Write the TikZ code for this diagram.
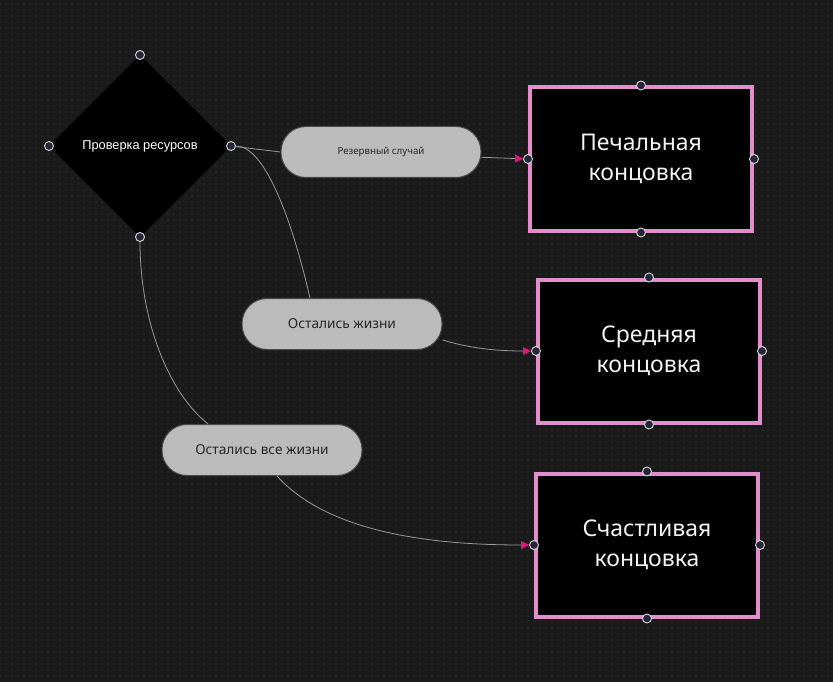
\documentclass[tikz,border=0pt]{standalone}
\usepackage{fontspec}
\setmainfont{Noto Sans}
\newfontfamily\diafont{Liberation Sans}
\usetikzlibrary{shapes.geometric,patterns.meta,arrows.meta}
\definecolor{bgc}{HTML}{1A1A1A}
\definecolor{dotc}{HTML}{303030}
\definecolor{pillc}{HTML}{BBBBBB}
\definecolor{pilledge}{HTML}{4A4A4A}
\definecolor{pinkc}{HTML}{E28ECC}
\definecolor{tipc}{HTML}{E0167C}
\definecolor{linec}{HTML}{9A9A9A}
\definecolor{portc}{HTML}{26263A}
\tikzset{
  pill/.style={draw=pilledge, line width=1pt, fill=pillc, rounded corners=25pt,
    minimum width=200pt, minimum height=51pt, inner sep=0pt, text=black!85},
  endbox/.style={draw=pinkc, line width=4pt, fill=black, minimum width=222pt,
    minimum height=143pt, inner sep=0pt, text=white!95!black, align=center,
    font=\fontsize{23}{29.5}\selectfont},
  port/.style={circle, draw=white!85!black, line width=0.9pt, fill=portc,
    minimum size=9pt, inner sep=0pt},
  conn/.style={draw=linec, line width=0.8pt},
  arr/.style={conn, -{Triangle[length=8pt,width=8pt,fill=tipc,color=tipc]}},
}
\begin{document}
\begin{tikzpicture}[x=1pt,y=-1pt]
\useasboundingbox (0,0) rectangle (833,682);
\fill[bgc] (0,0) rectangle (833,682);
\fill[pattern={Dots[radius=0.8pt,distance=6pt]}, pattern color=dotc] (0,0) rectangle (833,682);

% decision diamond
\node[diamond, fill=black, minimum width=182pt, minimum height=182pt, inner sep=0pt, outer sep=0pt,
  text=white, font=\diafont\fontsize{12.8}{14}\selectfont] (d) at (140,146) {Проверка ресурсов};

% pills
\node[pill, font=\fontsize{9.7}{11}\selectfont] (p1) at (381,152) {Резервный случай};
\node[pill, font=\fontsize{13.7}{16}\selectfont] (p2) at (342,324) {Остались жизни};
\node[pill, font=\fontsize{13.7}{16}\selectfont] (p3) at (262,450) {Остались все жизни};

% ending boxes
\node[endbox] (b1) at (641,159) {Печальная\\концовка};
\node[endbox] (b2) at (649,351) {Средняя\\концовка};
\node[endbox] (b3) at (647,545) {Счастливая\\концовка};

% ports
\foreach \n in {d,b1,b2,b3}{
  \node[port] (\n-n) at (\n.north) {};
  \node[port] (\n-s) at (\n.south) {};
  \node[port] (\n-w) at (\n.west) {};
  \node[port] (\n-e) at (\n.east) {};
}

% connectors
\draw[conn] (d-e) -- (p1.west);
\draw[arr] (p1.-3) -- (b1-w);
\draw[conn] (d-e) .. controls (265,146) and (292,220) .. ([xshift=-32pt]p2.north);
\draw[arr] (p2.-9) .. controls (475,350) and (505,351) .. (b2-w);
\draw[conn] (d-s) .. controls (140,320) and (168,392) .. ([xshift=-54pt]p3.north);
\draw[arr] ([xshift=15pt]p3.south) .. controls (330,535) and (440,545) .. (b3-w);
\end{tikzpicture}
\end{document}
